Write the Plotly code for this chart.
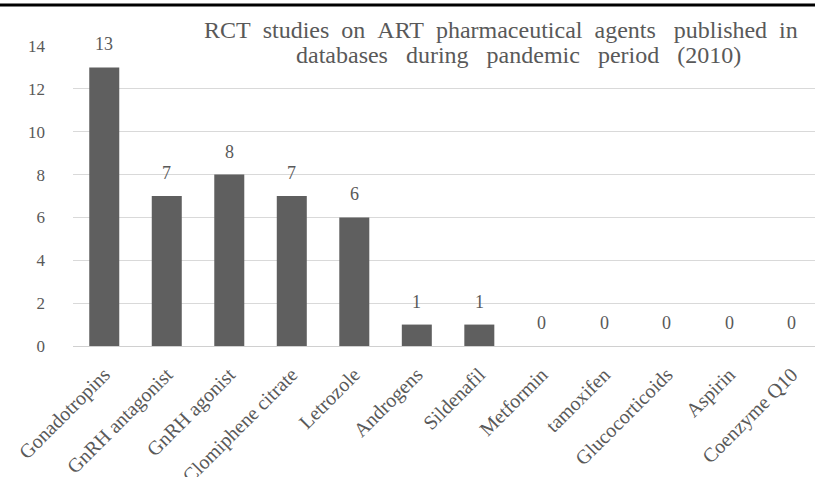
import plotly.graph_objects as go

# Number of RCT studies per ART pharmaceutical agent
agents = ["Gonadotropins", "GnRH antagonist", "GnRH agonist", "Clomiphene citrate",
          "Letrozole", "Androgens", "Sildenafil", "Metformin", "tamoxifen",
          "Glucocorticoids", "Aspirin", "Coenzyme Q10"]
studies = [13, 7, 8, 7, 6, 1, 1, 0, 0, 0, 0, 0]
y_ticks = [0, 2, 4, 6, 8, 10, 12, 14]

title_lines = ["RCT  studies  on  ART  pharmaceutical  agents   published  in",
               "databases   during   pandemic   period   (2010)"]

serif = "Liberation Serif, Times New Roman, serif"
gray = "#595959"


def spaced(s):
    # keep the wide word gaps of the justified title
    return s.replace(" ", "&nbsp;")


fig = go.Figure()
fig.add_trace(go.Bar(
    x=agents, y=studies,
    marker=dict(color="#5f5f5f", line=dict(width=0)),
    width=0.48,
    hoverinfo="x+y",
))

# value labels above each bar
for a, v in zip(agents, studies):
    fig.add_annotation(x=a, y=v, text=str(v), showarrow=False,
                       yanchor="middle", yshift=23,
                       font=dict(family=serif, size=18, color=gray))

# two-line chart title
fig.add_annotation(xref="paper", yref="paper", x=0.577, y=1.053,
                   text=spaced(title_lines[0]), showarrow=False, xanchor="center",
                   yanchor="middle", font=dict(family=serif, size=24, color=gray))
fig.add_annotation(xref="paper", yref="paper", x=0.601, y=0.97,
                   text=spaced(title_lines[1]), showarrow=False, xanchor="center",
                   yanchor="middle", font=dict(family=serif, size=24, color=gray))

# rule across the top of the page
fig.add_shape(type="line", xref="paper", yref="paper",
              x0=-0.2, x1=1.2, y0=1.1367, y1=1.1367,
              line=dict(color="black", width=3))

fig.update_layout(
    width=815, height=477,
    margin=dict(l=73, r=0, t=46, b=131, autoexpand=False),
    paper_bgcolor="white", plot_bgcolor="white",
    showlegend=False,
    xaxis=dict(
        range=[-0.5, 11.37],
        tickangle=-45,
        tickfont=dict(family=serif, size=20, color=gray),
        showgrid=False, showline=False, ticks="",
        ticklabelstandoff=12, automargin=False,
    ),
    yaxis=dict(
        range=[0, 14],
        tickvals=y_ticks,
        tickfont=dict(family=serif, size=17, color=gray),
        showgrid=True, gridcolor="#d9d9d9", gridwidth=1,
        zeroline=True, zerolinecolor="#d0d0d0", zerolinewidth=1,
        ticks="", ticklabelstandoff=27, automargin=False,
    ),
)

fig.write_html("out.html")
